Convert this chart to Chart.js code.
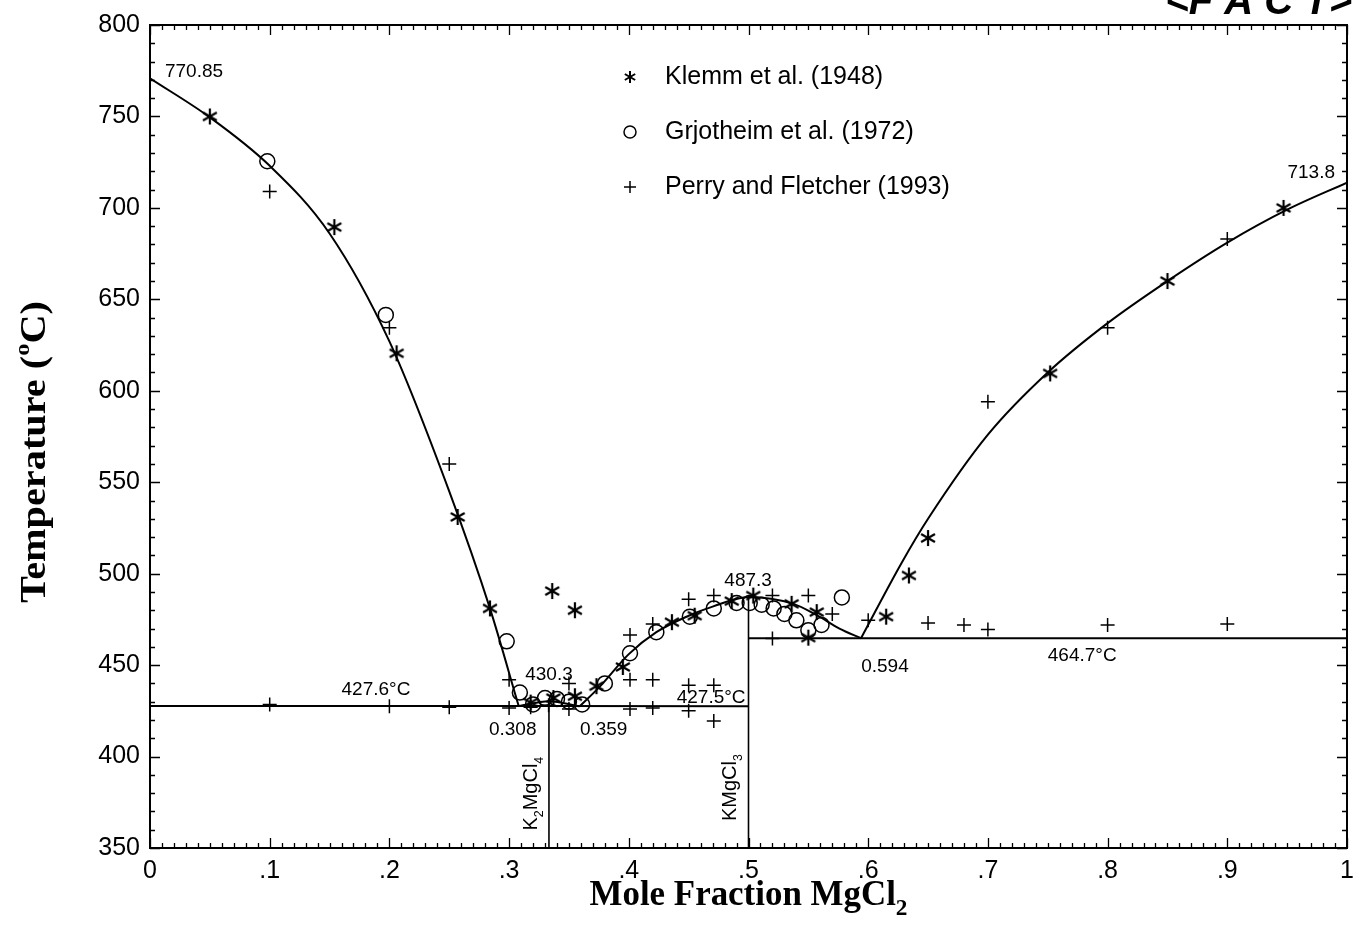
<!DOCTYPE html>
<html><head><meta charset="utf-8">
<script src="https://cdn.jsdelivr.net/npm/chart.js@4/dist/chart.umd.min.js"></script>
<style>html,body{margin:0;padding:0;background:#fff;}canvas{display:block;}</style>
</head><body>
<canvas id="c" width="1362" height="926"></canvas>
<script>
// ---------- tick labels ----------
const xTickLabels = ['0','.1','.2','.3','.4','.5','.6','.7','.8','.9','1'];
const yTickLabels = ['350','400','450','500','550','600','650','700','750','800'];

// ---------- calculated liquidus (FactSage) ----------
const liqLeftX  = [0, 0.05, 0.1, 0.15, 0.2, 0.25, 0.284, 0.308];
const liqLeftY  = [770.85, 749.5, 723, 686, 627, 545, 481, 427.6];
const liqHumpX  = [0.308, 0.3333, 0.359];
const liqHumpY  = [427.6, 430.3, 427.5];
const liqMidX   = [0.359, 0.376, 0.4, 0.423, 0.45, 0.47, 0.5, 0.537, 0.557, 0.576, 0.594];
const liqMidY   = [427.5, 438.4, 456, 468, 477, 482, 487.3, 483.6, 477.3, 470, 464.7];
const liqRightX = [0.594, 0.628, 0.65, 0.7, 0.75, 0.8, 0.85, 0.9, 0.95, 1];
const liqRightY = [464.7, 506, 530, 576, 610, 637, 660, 681, 699, 713.8];

// invariant lines and compounds
const eutX = [0, 0.3333, 0.5];
const eutY = [427.6, 427.6, 427.5];
const perX = [0.5, 1];
const perY = [464.7, 464.7];
const k2X  = [0.3333, 0.3333];
const k2Y  = [350, 430.3];
const k1X  = [0.5, 0.5];
const k1Y  = [350, 487.3];

// ---------- experimental data ----------
const klemmX = [0.05, 0.154, 0.206, 0.257, 0.284, 0.318, 0.337, 0.355, 0.336, 0.355, 0.373, 0.395, 0.436, 0.455, 0.486, 0.504, 0.536, 0.557, 0.55, 0.615, 0.634, 0.65, 0.752, 0.85, 0.947];
const klemmY = [750, 689.5, 620.5, 531, 481, 429.5, 432, 433, 490.5, 480, 438.5, 449, 473.5, 477, 485, 488, 483.5, 479, 465, 476.5, 499, 519.5, 609.5, 660, 700];

const grjX = [0.098, 0.197, 0.298, 0.309, 0.32, 0.33, 0.34, 0.35, 0.361, 0.38, 0.401, 0.423, 0.451, 0.471, 0.49, 0.501, 0.511, 0.521, 0.53, 0.54, 0.55, 0.561, 0.578];
const grjY = [725.5, 641.5, 463, 435, 428.5, 432, 431.5, 430, 428.5, 440, 456.5, 468, 476.5, 481, 484, 484, 483, 481, 478, 474.5, 469, 472, 487];

const perryX = [0.1, 0.2, 0.25, 0.3, 0.1, 0.2, 0.25, 0.3, 0.318, 0.333, 0.35, 0.35, 0.401, 0.401, 0.401, 0.42, 0.42, 0.42, 0.45, 0.45, 0.45, 0.471, 0.471, 0.471, 0.52, 0.52, 0.55, 0.57, 0.6, 0.65, 0.68, 0.7, 0.8, 0.9, 0.7, 0.8, 0.9];
const perryY = [709, 634.5, 560, 442, 428.5, 427.5, 427, 426.5, 427, 428, 440, 426, 466.5, 442, 426, 472.5, 442, 426.5, 486, 439, 425, 488, 439, 419.5, 488, 464.5, 488, 478, 474.5, 473, 472, 469.5, 472, 472.5, 594, 634.5, 683];

const seriesNames = ['Klemm et al. (1948)', 'Grjotheim et al. (1972)', 'Perry and Fletcher (1993)'];

// ---------- annotations ----------
const annoText  = ['770.85', '713.8', '427.6°C', '430.3', '427.5°C', '487.3', '0.308', '0.359', '0.594', '464.7°C'];
const annoX     = [0.0125, 0.99, 0.160, 0.3333, 0.440, 0.4997, 0.303, 0.379, 0.614, 0.750];
const annoY     = [771.5, 716.3, 433.5, 442, 429.3, 493, 412, 412, 446.5, 452];
const annoAlign = ['left', 'right', 'left', 'center', 'left', 'center', 'center', 'center', 'center', 'left'];

const compParts = [[['K',''],['2','sub'],['MgCl',''],['4','sub']], [['KMgCl',''],['3','sub']]];
const compX = [0.3236, 0.4896];
const compY = [379.7, 383];

// ---------- helpers ----------
const pts = (xs, ys) => xs.map((x, i) => ({x, y: ys[i]}));
function makeAsterisk(r, lw) {
  const s = Math.ceil(2 * r + 4), c = document.createElement('canvas');
  c.width = s; c.height = s;
  const g = c.getContext('2d');
  g.strokeStyle = '#000'; g.lineWidth = lw;
  const cx = s / 2, cy = s / 2;
  for (const a of [90, 30, 150]) {
    const t = a * Math.PI / 180;
    g.beginPath();
    g.moveTo(cx - r * Math.cos(t), cy - r * Math.sin(t));
    g.lineTo(cx + r * Math.cos(t), cy + r * Math.sin(t));
    g.stroke();
  }
  return c;
}
const astBig = makeAsterisk(8, 2.2);
const astSmall = makeAsterisk(6, 2);

const SANS = '"Liberation Sans", Arial, sans-serif';
const SERIF = '"Liberation Serif", "Times New Roman", serif';

function drawParts(ctx, parts, size, align) {
  let total = 0;
  const ws = parts.map(([t, k]) => {
    ctx.font = (k ? size * 0.62 : size) + 'px ' + SANS;
    const w = ctx.measureText(t).width; total += w; return w;
  });
  let x = align === 'center' ? -total / 2 : 0;
  parts.forEach(([t, k], i) => {
    ctx.font = (k ? size * 0.62 : size) + 'px ' + SANS;
    ctx.fillText(t, x, k === 'sub' ? size * 0.3 : 0);
    x += ws[i];
  });
}

const framePlugin = {
  id: 'frame',
  afterDatasetsDraw(chart) {
    const {ctx, chartArea: a, scales: {x, y}} = chart;
    ctx.save();
    ctx.strokeStyle = '#000';
    ctx.fillStyle = '#000';
    // frame
    ctx.lineWidth = 2;
    ctx.strokeRect(a.left, a.top, a.right - a.left, a.bottom - a.top);
    // ticks
    ctx.lineWidth = 1.3;
    ctx.beginPath();
    for (let i = 0; i <= 100; i++) {
      const px = Math.round(x.getPixelForValue(i / 100)) + 0.5;
      const L = i % 10 === 0 ? 10 : 5;
      ctx.moveTo(px, a.bottom); ctx.lineTo(px, a.bottom - L);
      ctx.moveTo(px, a.top); ctx.lineTo(px, a.top + L);
    }
    for (let v = 350; v <= 800; v += 10) {
      const py = Math.round(y.getPixelForValue(v)) + 0.5;
      const L = v % 50 === 0 ? 10 : 5;
      ctx.moveTo(a.left, py); ctx.lineTo(a.left + L, py);
      ctx.moveTo(a.right, py); ctx.lineTo(a.right - L, py);
    }
    ctx.stroke();

    // annotations
    ctx.font = '19px ' + SANS;
    ctx.textBaseline = 'alphabetic';
    annoText.forEach((t, i) => {
      ctx.textAlign = annoAlign[i];
      ctx.fillText(t, x.getPixelForValue(annoX[i]), y.getPixelForValue(annoY[i]));
    });
    // compound labels (rotated)
    ctx.textAlign = 'left';
    compParts.forEach((parts, i) => {
      ctx.save();
      ctx.translate(x.getPixelForValue(compX[i]), y.getPixelForValue(compY[i]));
      ctx.rotate(-Math.PI / 2);
      drawParts(ctx, parts, 20, 'center');
      ctx.restore();
    });

    // legend
    const lx = 630, rows = [77, 132, 187];
    ctx.font = '25px ' + SANS;
    ctx.textAlign = 'left';
    ctx.textBaseline = 'middle';
    rows.forEach((ry, i) => {
      if (i === 0) ctx.drawImage(astSmall, lx - astSmall.width / 2, ry - astSmall.height / 2);
      if (i === 1) { ctx.lineWidth = 1.5; ctx.beginPath(); ctx.arc(lx, ry, 6, 0, Math.PI * 2); ctx.stroke(); }
      if (i === 2) { ctx.lineWidth = 1.5; ctx.beginPath(); ctx.moveTo(lx - 6, ry); ctx.lineTo(lx + 6, ry); ctx.moveTo(lx, ry - 6); ctx.lineTo(lx, ry + 6); ctx.stroke(); }
      ctx.fillText(seriesNames[i], 665, ry);
    });

    // FACT logo (clipped at top)
    ctx.font = 'italic bold 40px ' + SANS;
    ctx.textAlign = 'right';
    ctx.textBaseline = 'alphabetic';
    ctx.fillText('<F A C T>', 1352, 14);

    // axis titles
    ctx.textAlign = 'left';
    ctx.font = 'bold 36px ' + SERIF;
    const t1 = 'Mole Fraction MgCl';
    const w1 = ctx.measureText(t1).width;
    ctx.font = 'bold 24px ' + SERIF;
    const w2 = ctx.measureText('2').width;
    const target = 318, sx = target / (w1 + w2);
    ctx.save();
    ctx.translate((a.left + a.right) / 2 - target / 2, 905);
    ctx.scale(sx, 1);
    ctx.font = 'bold 36px ' + SERIF;
    ctx.fillText(t1, 0, 0);
    ctx.font = 'bold 24px ' + SERIF;
    ctx.fillText('2', w1, 10);
    ctx.restore();

    ctx.save();
    ctx.font = 'bold 36px ' + SERIF;
    const ta = 'Temperature (', tc = 'C)';
    const wa = ctx.measureText(ta).width, wc = ctx.measureText(tc).width;
    ctx.font = 'bold 22px ' + SERIF;
    const wo = ctx.measureText('o').width;
    const tgt = 302, s2 = tgt / (wa + wo + wc);
    ctx.translate(45, 452 + tgt / 2);
    ctx.rotate(-Math.PI / 2);
    ctx.scale(s2, 1);
    ctx.font = 'bold 36px ' + SERIF;
    ctx.fillText(ta, 0, 0);
    ctx.font = 'bold 22px ' + SERIF;
    ctx.fillText('o', wa, -16);
    ctx.font = 'bold 36px ' + SERIF;
    ctx.fillText(tc, wa + wo, 0);
    ctx.restore();

    ctx.restore();
  }
};

const lineDs = (xs, ys, smooth, w) => ({
  data: pts(xs, ys), showLine: true, pointRadius: 0, borderColor: '#000',
  borderWidth: w, fill: false,
  cubicInterpolationMode: smooth ? 'monotone' : 'default', tension: 0
});

new Chart(document.getElementById('c'), {
  type: 'scatter',
  data: {
    datasets: [
      { label: seriesNames[0], data: pts(klemmX, klemmY), pointStyle: astBig, pointRadius: 8, showLine: false },
      { label: seriesNames[1], data: pts(grjX, grjY), pointStyle: 'circle', pointRadius: 7.5, borderWidth: 1.5, borderColor: '#000', backgroundColor: 'rgba(0,0,0,0)', showLine: false },
      { label: seriesNames[2], data: pts(perryX, perryY), pointStyle: 'cross', pointRadius: 7, borderWidth: 1.5, borderColor: '#000', showLine: false },
      lineDs(liqLeftX, liqLeftY, true, 2),
      lineDs(liqHumpX, liqHumpY, true, 2),
      lineDs(liqMidX, liqMidY, true, 2),
      lineDs(liqRightX, liqRightY, true, 2),
      lineDs(eutX, eutY, false, 2),
      lineDs(perX, perY, false, 2),
      lineDs(k2X, k2Y, false, 1.6),
      lineDs(k1X, k1Y, false, 1.6)
    ]
  },
  options: {
    responsive: false,
    devicePixelRatio: 1,
    animation: false,
    events: [],
    layout: { padding: { left: 0, top: 18, right: 15, bottom: 0 } },
    plugins: { legend: { display: false }, tooltip: { enabled: false } },
    scales: {
      x: {
        type: 'linear', min: 0, max: 1,
        grid: { display: false, drawTicks: false },
        border: { display: false },
        ticks: { stepSize: 0.1, color: '#000', padding: 8, maxRotation: 0, autoSkip: false,
                 font: { family: SANS, size: 25 },
                 callback: (v, i) => xTickLabels[i] },
        afterFit: s => { s.height = 78; }
      },
      y: {
        type: 'linear', min: 350, max: 800,
        grid: { display: false, drawTicks: false },
        border: { display: false },
        ticks: { stepSize: 50, color: '#000', padding: 10, autoSkip: false,
                 font: { family: SANS, size: 25 },
                 callback: (v, i) => yTickLabels[i] },
        afterFit: s => { s.width = 150; }
      }
    }
  },
  plugins: [framePlugin]
});
</script>
</body></html>
